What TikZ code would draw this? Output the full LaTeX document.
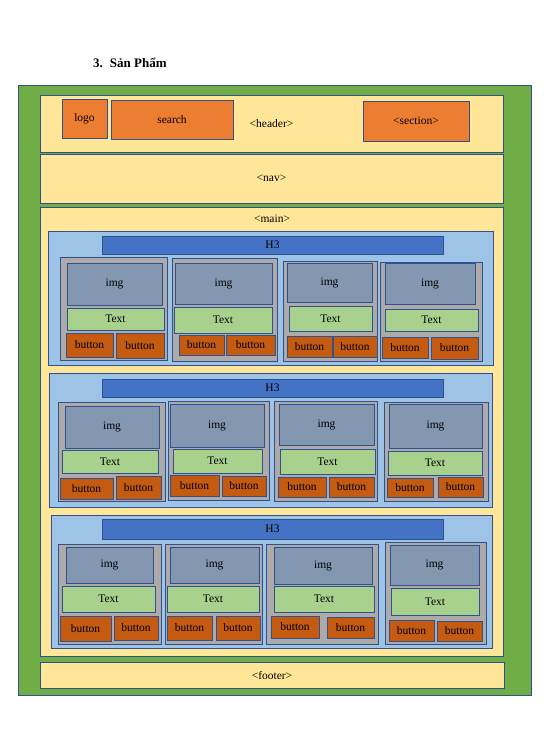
\documentclass[tikz,border=0pt]{standalone}
\usepackage{fontspec}
\setmainfont{Liberation Serif}
\definecolor{cgreen}{HTML}{70AD47}
\definecolor{cyellow}{HTML}{FFE699}
\definecolor{corange}{HTML}{ED7D31}
\definecolor{clblue}{HTML}{9DC3E6}
\definecolor{chblue}{HTML}{4472C4}
\definecolor{cgrey}{HTML}{AEAAAA}
\definecolor{cimg}{HTML}{8497B0}
\definecolor{ctext}{HTML}{A9D18E}
\definecolor{cbtn}{HTML}{C55A11}
\definecolor{cedge}{HTML}{2F528F}
\newcommand\bx[7]{\node[#1, minimum width={#5pt-#3pt}, minimum height={#6pt-#4pt}] (#2) at ({(#3+#5)/2},{(#4+#6)/2}) {#7};}
\begin{document}
\begin{tikzpicture}[x=1pt,y=-1pt,
  base/.style={draw=cedge, line width=0.9pt, inner sep=0pt, outer sep=0pt, font=\fontsize{11.5}{13}\selectfont, text=black},
  outerbox/.style={base, fill=cgreen},
  yel/.style={base, fill=cyellow},
  org/.style={base, fill=corange},
  sec/.style={base, fill=clblue},
  hbar/.style={base, fill=chblue},
  cardbox/.style={base, fill=cgrey},
  imgbox/.style={base, fill=cimg},
  txtbox/.style={base, fill=ctext},
  btn/.style={base, fill=cbtn}]
\useasboundingbox (0,0) rectangle (553,752);
\node[anchor=west, font=\bfseries\fontsize{13}{15}\selectfont, inner sep=0pt] (title) at (93,63) {3.\hspace{7pt}Sản Phẩm};
\bx{outerbox}{page}{18}{85}{531}{695}{}
\bx{yel}{header}{40}{95}{503}{152}{<header>}
\bx{org}{logo}{62}{99}{107}{138}{logo}
\bx{org}{search}{111}{100}{233}{139}{search}
\bx{org}{section}{363}{101}{469}{141}{<section>}
\bx{yel}{nav}{40}{154}{503}{203}{<nav>}
\bx{yel}{main}{40}{207}{503}{656}{}
\node[font=\fontsize{11.5}{13}\selectfont, inner sep=0pt] (mainlbl) at (272,219) {<main>};
\bx{yel}{footer}{40}{662}{504}{688}{<footer>}
% section 1
\bx{sec}{s1}{48}{231}{493}{365}{}
\bx{hbar}{h1}{102}{236}{443}{254}{H3}
\bx{cardbox}{c11}{60}{257}{167}{360}{}
\bx{imgbox}{c11i}{67}{263}{162}{305}{img}
\bx{txtbox}{c11t}{67}{308}{164}{330}{Text}
\bx{btn}{c11a}{66}{333}{113}{357}{button}
\bx{btn}{c11b}{116}{333}{164}{358}{button}
\bx{cardbox}{c12}{172}{258}{277}{361}{}
\bx{imgbox}{c12i}{175}{263}{272}{304}{img}
\bx{txtbox}{c12t}{174}{307}{272}{333}{Text}
\bx{btn}{c12a}{179}{335}{224}{355}{button}
\bx{btn}{c12b}{226}{335}{275}{355}{button}
\bx{cardbox}{c13}{283}{261}{377}{361}{}
\bx{imgbox}{c13i}{287}{263}{372}{302}{img}
\bx{txtbox}{c13t}{289}{306}{372}{331}{Text}
\bx{btn}{c13a}{287}{336}{332}{357}{button}
\bx{btn}{c13b}{333}{336}{377}{357}{button}
\bx{cardbox}{c14}{380}{262}{482}{361}{}
\bx{imgbox}{c14i}{385}{263}{475}{304}{img}
\bx{txtbox}{c14t}{385}{309}{478}{331}{Text}
\bx{btn}{c14a}{382}{337}{428}{358}{button}
\bx{btn}{c14b}{431}{337}{478}{359}{button}
% section 2
\bx{sec}{s2}{49}{373}{492}{507}{}
\bx{hbar}{h2}{102}{379}{443}{397}{H3}
\bx{cardbox}{c21}{58}{402}{165}{501}{}
\bx{imgbox}{c21i}{65}{406}{159}{448}{img}
\bx{txtbox}{c21t}{62}{450}{158}{473}{Text}
\bx{btn}{c21a}{60}{478}{113}{499}{button}
\bx{btn}{c21b}{116}{476}{161}{499}{button}
\bx{cardbox}{c22}{168}{401}{269}{500}{}
\bx{imgbox}{c22i}{170}{404}{264}{447}{img}
\bx{txtbox}{c22t}{173}{449}{262}{473}{Text}
\bx{btn}{c22a}{170}{475}{219}{496}{button}
\bx{btn}{c22b}{222}{476}{266}{496}{button}
\bx{cardbox}{c23}{274}{401}{377}{501}{}
\bx{imgbox}{c23i}{279}{404}{374}{445}{img}
\bx{txtbox}{c23t}{280}{449}{375}{474}{Text}
\bx{btn}{c23a}{278}{477}{326}{497}{button}
\bx{btn}{c23b}{329}{477}{374}{497}{button}
\bx{cardbox}{c24}{384}{402}{488}{501}{}
\bx{imgbox}{c24i}{389}{404}{482}{448}{img}
\bx{txtbox}{c24t}{388}{451}{482}{475}{Text}
\bx{btn}{c24a}{387}{478}{433}{497}{button}
\bx{btn}{c24b}{438}{477}{483}{497}{button}
% section 3
\bx{sec}{s3}{51}{515}{492}{648}{}
\bx{hbar}{h3}{102}{519}{443}{539}{H3}
\bx{cardbox}{c31}{58}{544}{161}{644}{}
\bx{imgbox}{c31i}{66}{547}{153}{583}{img}
\bx{txtbox}{c31t}{62}{586}{155}{612}{Text}
\bx{btn}{c31a}{60}{616}{111}{641}{button}
\bx{btn}{c31b}{114}{616}{158}{640}{button}
\bx{cardbox}{c32}{165}{544}{262}{644}{}
\bx{imgbox}{c32i}{170}{547}{259}{583}{img}
\bx{txtbox}{c32t}{167}{586}{259}{612}{Text}
\bx{btn}{c32a}{167}{616}{212}{640}{button}
\bx{btn}{c32b}{216}{616}{260}{640}{button}
\bx{cardbox}{c33}{266}{544}{378}{644}{}
\bx{imgbox}{c33i}{274}{547}{372}{584}{img}
\bx{txtbox}{c33t}{274}{586}{374}{612}{Text}
\bx{btn}{c33a}{271}{616}{319}{638}{button}
\bx{btn}{c33b}{327}{617}{374}{638}{button}
\bx{cardbox}{c34}{385}{542}{486}{644}{}
\bx{imgbox}{c34i}{390}{545}{479}{585}{img}
\bx{txtbox}{c34t}{391}{588}{479}{615}{Text}
\bx{btn}{c34a}{389}{620}{434}{641}{button}
\bx{btn}{c34b}{437}{621}{482}{641}{button}
\end{tikzpicture}
\end{document}
